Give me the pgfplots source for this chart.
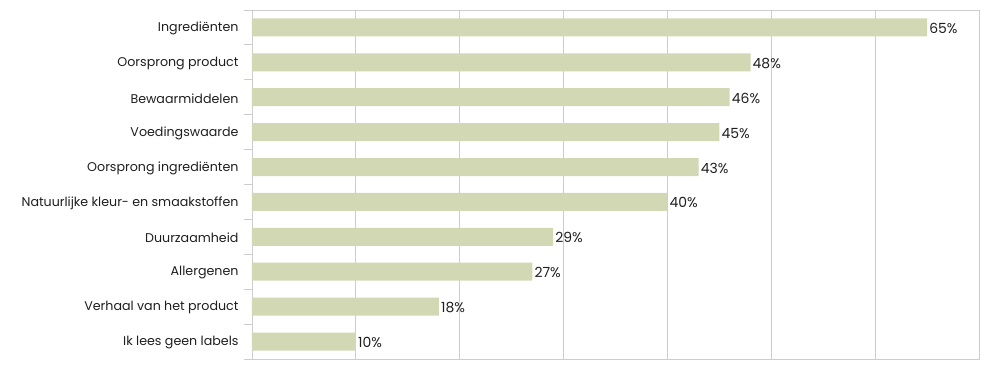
\documentclass[border=0pt]{standalone}
\usepackage{fontspec}
\setmainfont{Poppins}
\usepackage{pgfplots}
\pgfplotsset{compat=1.18}
\definecolor{barc}{HTML}{D3D8B4}
\definecolor{gridc}{HTML}{CDCDCD}
\definecolor{txt}{HTML}{1E1E1E}
\begin{document}
\begin{tikzpicture}
\useasboundingbox (-252bp,-9bp) rectangle (748bp,359bp);
\begin{axis}[at={(0,0)}, anchor=south west, scale only axis,
  width=727bp, height=349bp,
  xmin=0, xmax=70, ymin=0.5, ymax=10.5,
  xtick={10,20,...,60}, xticklabels={},
  xmajorgrids,
  major x grid style={gridc, line width=0.8pt},
  major x tick style={draw=none},
  xtick pos=bottom,
  ytick={0.5,1.5,...,10.5}, yticklabels={},
  ytick pos=left,
  major y tick style={gridc, line width=0.8pt},
  major tick length=8bp,
  tick align=outside,
  extra y ticks={1,...,10},
  extra y tick labels={Ik lees geen labels,Verhaal van het product,Allergenen,Duurzaamheid,Natuurlijke kleur- en smaakstoffen,Oorsprong ingrediënten,Voedingswaarde,Bewaarmiddelen,Oorsprong product,Ingrediënten},
  extra y tick style={major tick length=0pt, major y tick style={draw=none},
    yticklabel style={font=\fontsize{12.7}{12.7}\selectfont, text=txt, xshift=-10bp, yshift=-1bp}},
  axis line style={gridc, line width=0.8pt},
  /pgf/number format/assume math mode=true,
]
\addplot[xbar, bar width=18bp, fill=barc, draw=none,
  point meta=x,
  nodes near coords={\pgfmathprintnumber{\pgfplotspointmeta}\%},
  nodes near coords align=horizontal,
  every node near coord/.append style={font=\fontsize{14}{14}\selectfont, text=txt, anchor=west, inner sep=2bp, yshift=-1bp}] coordinates {
(65,10) (48,9) (46,8) (45,7) (43,6) (40,5) (29,4) (27,3) (18,2) (10,1)};
\end{axis}
\end{tikzpicture}
\end{document}
